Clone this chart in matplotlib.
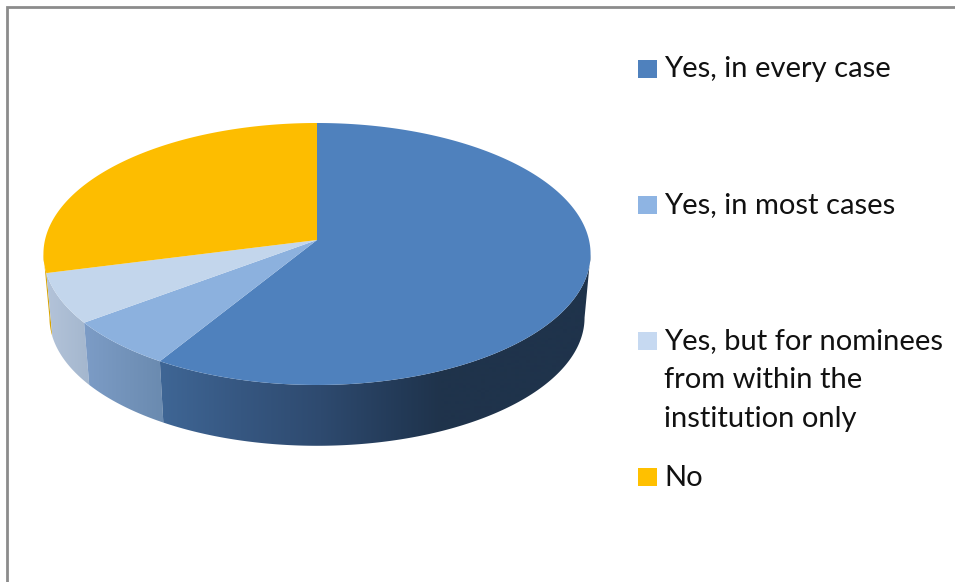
import numpy as np
import matplotlib.pyplot as plt
from matplotlib.colors import to_rgb
from matplotlib.patches import Polygon, Rectangle

plt.rcParams['font.family'] = ['Lato', 'DejaVu Sans']

labels = ['Yes, in every case', 'Yes, in most cases',
          'Yes, but for nominees\nfrom within the\ninstitution only', 'No']
values = [58.8, 6.0, 6.2, 29.0]
top_colors = ['#4f81bd', '#8cb1de', '#c3d6ec', '#fdbd00']
key_colors = ['#4f81bd', '#8eb4e3', '#c6d9f1', '#ffc000']

# wall shading, left to right in pixels
wall_stops = [
    ([160, 240, 320, 400, 440], ['#3f6695', '#365781', '#2e4a6f', '#233a57', '#1f334b']),
    ([85, 160], ['#7c9cc6', '#6b8bb0']),
    ([47, 88], ['#b3c3d9', '#a4b7ce']),
    ([44, 52], ['#d9a400', '#d9a400']),
]
label_baselines = [77, 213, 349, 486]
key_tops = [60, 196, 332, 468]

TILT = 0.1068


def rim(theta, cx, cy, scale):
    # perspective projection of the pie circle, theta clockwise from 12 o'clock
    c = -np.cos(theta)
    s = 1 / (1 - TILT * c)
    return cx + scale * 272 * np.sin(theta) * s, cy + scale * 129.5 * c * s


def wedge_top(a, b):
    t = np.linspace(a, b, 200)
    x, y = rim(t, 317, 240, 1)
    return np.column_stack([np.r_[317, x], np.r_[240, y]])


def wall(a, b):
    t = np.linspace(a, b, 200)
    x1, y1 = rim(t, 317, 240, 1)
    x2, y2 = rim(t[::-1], 317, 304, 0.978)
    return np.column_stack([np.r_[x1, x2], np.r_[y1, y2]])


fig = plt.figure(figsize=(9.55, 5.82), dpi=100)
ax = fig.add_axes([0, 0, 1, 1])
ax.set_xlim(0, 955)
ax.set_ylim(582, 0)
ax.axis('off')

# chart frame, only the top and left sides are in view
ax.plot([7.3, 7.3, 955], [582, 7.3, 7.3], color='#8c8c8c', lw=2, solid_joinstyle='miter')

edges = np.radians(np.r_[0, np.cumsum(values)] * 3.6)

# the widest points of the rim, the walls run between them
side = np.arccos(-TILT)
xs = np.arange(955)
for i in [3, 2, 1, 0]:
    a = max(edges[i], side)
    b = min(edges[i + 1], 2 * np.pi - side)
    stops_x, stops_c = wall_stops[i]
    rgb = np.array([to_rgb(c) for c in stops_c])
    row = np.column_stack([np.interp(xs, stops_x, rgb[:, k]) for k in range(3)])
    im = ax.imshow(row[np.newaxis], extent=(0, 955, 582, 0), aspect='auto', zorder=2)
    im.set_clip_path(Polygon(wall(a, b), transform=ax.transData))

# top face
for i in range(len(values)):
    ax.add_patch(Polygon(wedge_top(edges[i], edges[i + 1]), closed=True,
                         facecolor=top_colors[i], edgecolor='none', zorder=3))

ax.set_xlim(0, 955)
ax.set_ylim(582, 0)

# legend
for label, base, top, col in zip(labels, label_baselines, key_tops, key_colors):
    ax.add_patch(Rectangle((638, top), 19, 18, facecolor=col, edgecolor='none'))
    for n, line in enumerate(label.split('\n')):
        ax.text(664, base + n * 39, line, fontsize=21, color='#111111', va='baseline', ha='left')

fig.savefig('out.png', dpi=100)
